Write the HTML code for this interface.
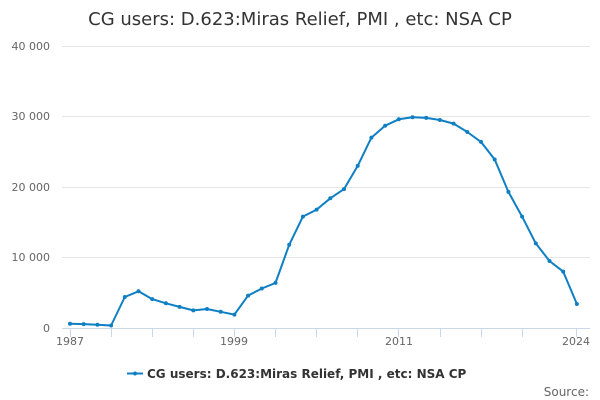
<!DOCTYPE html>
<html><head><meta charset="utf-8"><style>
body{margin:0;background:#fff;}
svg{display:block;font-family:"DejaVu Sans","Liberation Sans",sans-serif;}
</style></head><body>
<svg width="600" height="400" xmlns="http://www.w3.org/2000/svg">
<text x="300" y="25" text-anchor="middle" font-size="18" fill="#333">CG users: D.623:Miras Relief, PMI , etc: NSA CP</text>
<g stroke="#e6e6e6" stroke-width="1">
<line x1="62" y1="46.5" x2="590" y2="46.5"/>
<line x1="62" y1="116.5" x2="590" y2="116.5"/>
<line x1="62" y1="187.5" x2="590" y2="187.5"/>
<line x1="62" y1="257.5" x2="590" y2="257.5"/>
</g>
<line x1="62" y1="328.5" x2="590" y2="328.5" stroke="#ccd6eb"/>
<g stroke="#ccd6eb">
<line x1="70.5" y1="328" x2="70.5" y2="337"/><line x1="111.5" y1="328" x2="111.5" y2="337"/><line x1="152.5" y1="328" x2="152.5" y2="337"/><line x1="193.5" y1="328" x2="193.5" y2="337"/><line x1="234.5" y1="328" x2="234.5" y2="337"/><line x1="275.5" y1="328" x2="275.5" y2="337"/><line x1="316.5" y1="328" x2="316.5" y2="337"/><line x1="357.5" y1="328" x2="357.5" y2="337"/><line x1="398.5" y1="328" x2="398.5" y2="337"/><line x1="440.5" y1="328" x2="440.5" y2="337"/><line x1="481.5" y1="328" x2="481.5" y2="337"/><line x1="522.5" y1="328" x2="522.5" y2="337"/><line x1="576.5" y1="328" x2="576.5" y2="337"/>
</g>
<g font-size="11" fill="#666" text-anchor="end">
<text x="50" y="50">40 000</text><text x="50" y="120">30 000</text><text x="50" y="191">20 000</text><text x="50" y="261">10 000</text><text x="50" y="332">0</text>
</g>
<g font-size="11" fill="#666" text-anchor="middle">
<text x="70" y="345">1987</text><text x="234" y="345">1999</text><text x="399" y="345">2011</text><text x="576" y="345">2024</text>
</g>
<polyline fill="none" stroke="#0f7fc4" stroke-width="2" stroke-linejoin="round" points="70,323.8 83.7,324.1 97.4,324.8 111.1,325.5 124.8,297 138.5,291.3 152.2,299.1 165.9,303.3 179.6,306.9 193.3,310.4 207,309 220.7,311.8 234.4,314.6 248.1,295.6 261.8,288.5 275.5,282.9 289.2,244.8 302.9,216.6 316.6,209.6 330.3,198.3 344,189.1 357.7,165.9 371.4,137.6 385.1,125.7 398.8,119.3 412.5,117.2 426.2,117.9 439.9,120 453.6,123.6 467.3,132 481,141.9 494.7,159.5 508.4,191.9 522.1,216.6 535.8,243.4 549.5,261 563.2,271.6 576.9,304"/>
<g fill="#0f7fc4">
<circle cx="70" cy="323.8" r="2"/><circle cx="83.7" cy="324.1" r="2"/><circle cx="97.4" cy="324.8" r="2"/><circle cx="111.1" cy="325.5" r="2"/><circle cx="124.8" cy="297" r="2"/><circle cx="138.5" cy="291.3" r="2"/><circle cx="152.2" cy="299.1" r="2"/><circle cx="165.9" cy="303.3" r="2"/><circle cx="179.6" cy="306.9" r="2"/><circle cx="193.3" cy="310.4" r="2"/><circle cx="207" cy="309" r="2"/><circle cx="220.7" cy="311.8" r="2"/><circle cx="234.4" cy="314.6" r="2"/><circle cx="248.1" cy="295.6" r="2"/><circle cx="261.8" cy="288.5" r="2"/><circle cx="275.5" cy="282.9" r="2"/><circle cx="289.2" cy="244.8" r="2"/><circle cx="302.9" cy="216.6" r="2"/><circle cx="316.6" cy="209.6" r="2"/><circle cx="330.3" cy="198.3" r="2"/><circle cx="344" cy="189.1" r="2"/><circle cx="357.7" cy="165.9" r="2"/><circle cx="371.4" cy="137.6" r="2"/><circle cx="385.1" cy="125.7" r="2"/><circle cx="398.8" cy="119.3" r="2"/><circle cx="412.5" cy="117.2" r="2"/><circle cx="426.2" cy="117.9" r="2"/><circle cx="439.9" cy="120" r="2"/><circle cx="453.6" cy="123.6" r="2"/><circle cx="467.3" cy="132" r="2"/><circle cx="481" cy="141.9" r="2"/><circle cx="494.7" cy="159.5" r="2"/><circle cx="508.4" cy="191.9" r="2"/><circle cx="522.1" cy="216.6" r="2"/><circle cx="535.8" cy="243.4" r="2"/><circle cx="549.5" cy="261" r="2"/><circle cx="563.2" cy="271.6" r="2"/><circle cx="576.9" cy="304" r="2"/>
</g>
<line x1="127" y1="373.5" x2="143" y2="373.5" stroke="#0f7fc4" stroke-width="2"/>
<circle cx="135" cy="373.5" r="2" fill="#0f7fc4"/>
<text x="147" y="378" font-size="12" font-weight="bold" fill="#333">CG users: D.623:Miras Relief, PMI , etc: NSA CP</text>
<text x="589" y="396" font-size="12" fill="#666" text-anchor="end">Source:</text>
</svg>
</body></html>
